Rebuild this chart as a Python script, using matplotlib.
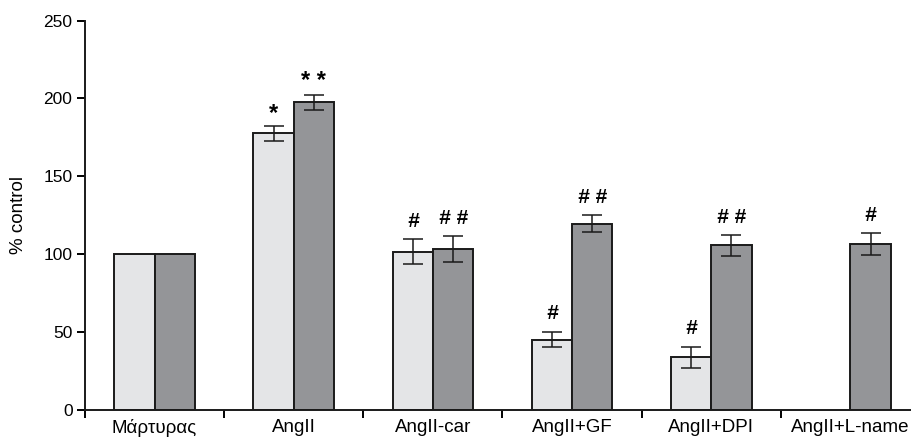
import matplotlib
matplotlib.use("Agg")
import matplotlib.pyplot as plt
import numpy as np

categories = ["Μάρτυρας", "AngII", "AngII-car", "AngII+GF", "AngII+DPI", "AngII+L-name"]
light_vals = [100, 177.5, 101.5, 45, 33.5, np.nan]
light_err = [0, 4.7, 8, 5, 7, np.nan]
dark_vals = [100, 197.5, 103, 119.5, 105.5, 106.5]
dark_err = [0, 5, 8.3, 5.5, 6.5, 7]
light_marks = ["", "*", "#", "#", "#", ""]
dark_marks = ["", "* *", "# #", "# #", "# #", "#"]
yticks = [0, 50, 100, 150, 200, 250]

plt.rcParams['font.family'] = ['Liberation Sans', 'DejaVu Sans']

fig = plt.figure(figsize=(9.11, 4.40), dpi=100)
ax = fig.add_axes([85/911, 30.5/440, 835/911, 388.8/440])

x = np.arange(len(categories))
w = 0.29
ax.bar(x - w/2, light_vals, w, color="#e4e5e7", edgecolor="#1a1a1a", linewidth=1.4, zorder=2)
ax.bar(x + w/2, dark_vals, w, color="#949598", edgecolor="#1a1a1a", linewidth=1.4, zorder=2)

for xs, vals, errs in [(x - w/2, light_vals, light_err), (x + w/2, dark_vals, dark_err)]:
    for xi, v, e in zip(xs, vals, errs):
        if np.isfinite(v) and e > 0:
            ax.errorbar(xi, v, yerr=e, fmt="none", ecolor="#1a1a1a", elinewidth=1.1,
                        capsize=7.5, capthick=1.1, zorder=3)

for xs, vals, errs, marks in [(x - w/2, light_vals, light_err, light_marks),
                              (x + w/2, dark_vals, dark_err, dark_marks)]:
    for xi, v, e, m in zip(xs, vals, errs, marks):
        if m:
            if "#" in m:
                ax.annotate(m, (xi, v + e), xytext=(0, 6), textcoords="offset points",
                            ha="center", va="bottom", fontsize=15, fontweight="bold",
                            fontstyle="italic")
            else:
                ax.annotate(m, (xi, v + e), xytext=(0, 1), textcoords="offset points",
                            ha="center", va="bottom", fontsize=17, fontweight="bold")

ax.set_xlim(-0.5, len(categories) - 0.5)
ax.set_ylim(0, 250)
ax.set_yticks(yticks)
ax.set_yticklabels([str(t) for t in yticks], fontsize=12.5)
ax.set_xticks(np.arange(len(categories) + 1) - 0.5)
ax.set_xticklabels([])
ax.set_xticks(x, minor=True)
ax.set_xticklabels(categories, minor=True, fontsize=13.5)
ax.tick_params(axis="x", which="minor", length=0, pad=7)
ax.tick_params(axis="x", which="major", length=6, width=1.4, direction="out")
ax.tick_params(axis="y", length=6, width=1.4, direction="out", pad=3)
for s in ["top", "right"]:
    ax.spines[s].set_visible(False)
for s in ["left", "bottom"]:
    ax.spines[s].set_linewidth(1.4)
    ax.spines[s].set_color("#1a1a1a")
ax.set_ylabel("% control", fontsize=13.5, labelpad=12)

fig.savefig("out.png", dpi=100)
